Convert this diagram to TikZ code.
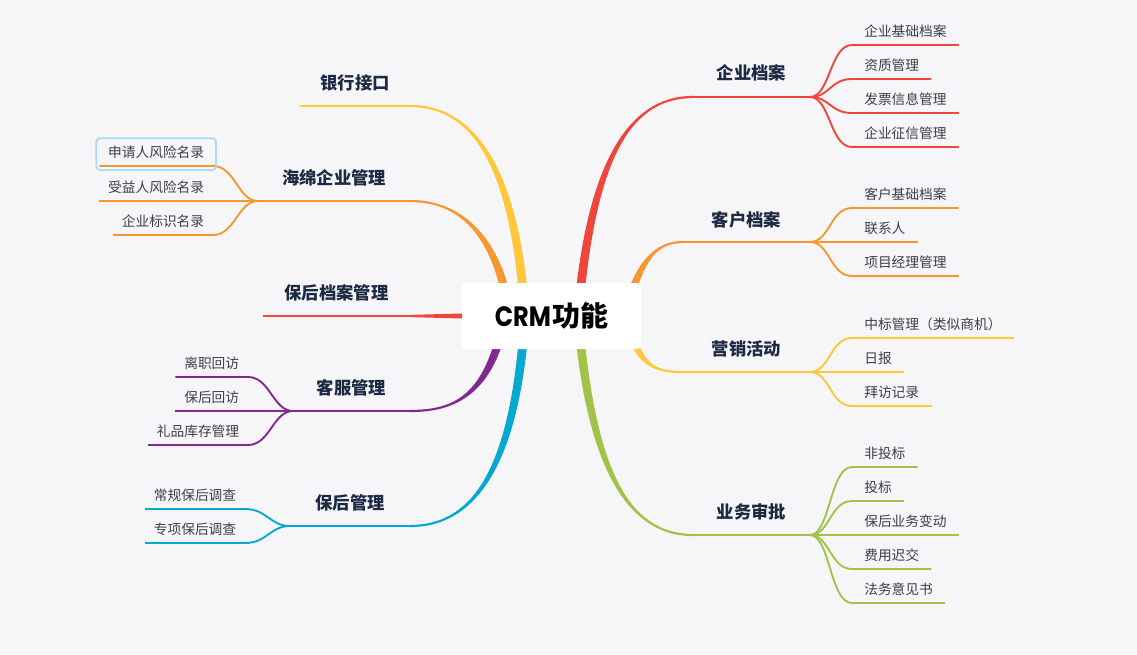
\documentclass[tikz,border=0pt]{standalone}
\usepackage{fontspec}
\usepackage{graphicx}
\newfontfamily\cjk{Noto Sans CJK SC}
\newfontfamily\pop{Poppins}
\usetikzlibrary{calc}
\pgfdeclarelayer{bg}
\pgfsetlayers{bg,main}
\definecolor{bgc}{HTML}{F6F6F9}
\definecolor{cred}{HTML}{F0453A}
\definecolor{corg}{HTML}{F7972F}
\definecolor{cyel}{HTML}{FEC83A}
\definecolor{cgrn}{HTML}{A2C347}
\definecolor{cpur}{HTML}{80298F}
\definecolor{ccyn}{HTML}{06A8D0}
\definecolor{navy}{HTML}{1D2A44}
\definecolor{subc}{HTML}{3A3F4B}
\definecolor{hlc}{HTML}{A5DBF6}
\def\wa{4.5}
\def\wb{1.1}
% tapered main branch: colour, Sx,Sy, C1x,C1y, C2x,C2y, Ex,Ey
\newcommand\mbranch[9]{%
  \pgfmathsetmacro\sg{((#8-#2)/100)*((#9-#3)/100)<0 ? -1 : 1}%
  \fill[#1] (#2-\wa,#3) .. controls (#4-\wa,#5) and (#6,#7+\sg*\wb) .. (#8,#9+\sg*\wb)
    -- (#8,#9-\sg*\wb) .. controls (#6,#7-\sg*\wb) and (#4+\wa,#5) .. (#2+\wa,#3) -- cycle;}
\tikzset{
  crmbox/.style={fill=white, rounded corners=3pt, minimum width=134.25pt, minimum height=49.5pt, inner sep=0pt},
  mainl/.style={font=\cjk\bfseries\fontsize{13}{15}\selectfont, text=navy, inner sep=0pt},
  rsub/.style={anchor=south west, font=\cjk\fontsize{10.3}{12}\selectfont, text=subc, inner xsep=9pt, inner ysep=4.5pt, text height=0.8em, text depth=0.2em},
  lsub/.style={rsub, anchor=south east, inner xsep=6.4pt},
  hline/.style={line width=1.7pt},
  sbr/.style={line width=1.4pt},
  hl/.style={draw=hlc, line width=1.3pt, rounded corners=3pt},
}
\newcommand\rbr[3]{\draw[sbr] (#1) .. controls +(20,0) and +(-22,0) .. (#2.south west) -- (#2.south east);}
\newcommand\lbr[3]{\draw[sbr] (#1) .. controls +(-20,0) and +(22,0) .. (#2.south east) -- (#2.south west);}
\begin{document}
\begin{tikzpicture}[x=0.75pt,y=-0.75pt]
\useasboundingbox (0,0) rectangle (1137,654);
\begin{pgfonlayer}{bg}
\fill[bgc] (0,0) rectangle (1137,654);
% main branches
\mbranch{cred}{578}{316}{590}{170}{625}{97}{693}{97}
\mbranch{corg}{625}{316}{638}{262}{655}{242}{683}{242}
\mbranch{cyel}{625}{316}{638}{367}{655}{372}{683}{372}
\mbranch{cgrn}{578}{316}{590}{462}{625}{535}{693}{535}
\mbranch{cyel}{525}{316}{515}{160}{470}{106}{410}{106}
\mbranch{corg}{510}{316}{498}{235}{460}{201}{410}{201}
\mbranch{cpur}{505}{316}{490}{395}{455}{411}{410}{411}
\mbranch{ccyn}{525}{316}{515}{475}{470}{526}{410}{526}
\fill[cred] (480,316-3) -- (410,316-1.1) -- (410,316+1.1) -- (480,316+3) -- cycle;
\end{pgfonlayer}

\node[crmbox] (crm) at (551.5,316) {\fontsize{21}{26}\selectfont\scalebox{0.86}[1]{\pop\bfseries CRM}\hspace{1pt}{\cjk\bfseries 功能}};

% end points of the curved parts and fork points
\coordinate (e1) at (693,97);  \coordinate (h1) at (810,97);
\coordinate (e2) at (683,242); \coordinate (h2) at (810,242);
\coordinate (e3) at (683,372); \coordinate (h3) at (810,372);
\coordinate (e4) at (693,535); \coordinate (h4) at (810,535);
\coordinate (e5) at (410,106); \coordinate (h5) at (300,106);
\coordinate (e6) at (410,201); \coordinate (h6) at (258,201);
\coordinate (e7) at (410,316); \coordinate (h7) at (263,316);
\coordinate (e8) at (410,411); \coordinate (h8) at (293,411);
\coordinate (e9) at (410,526); \coordinate (h9) at (290,526);

\draw[hline,cred] (e1) -- (h1);
\draw[hline,corg] (e2) -- (h2);
\draw[hline,cyel] (e3) -- (h3);
\draw[hline,cgrn] (e4) -- (h4);
\draw[hline,cyel] (e5) -- (h5);
\draw[hline,corg] (e6) -- (h6);
\draw[hline,cred] (e7) -- (h7);
\draw[hline,cpur] (e8) -- (h8);
\draw[hline,ccyn] (e9) -- (h9);

% main labels
\node[mainl] (m1) at ($(e1)!0.5!(h1)+(0,-24)$) {企业档案};
\node[mainl] (m2) at ($(e2)!0.5!(h2)+(0,-22)$) {客户档案};
\node[mainl] (m3) at ($(e3)!0.5!(h3)+(0,-23)$) {营销活动};
\node[mainl] (m4) at ($(e4)!0.5!(h4)+(0,-23)$) {业务审批};
\node[mainl] (m5) at ($(e5)!0.5!(h5)+(0,-23)$) {银行接口};
\node[mainl] (m6) at ($(e6)!0.5!(h6)+(0,-23)$) {海绵企业管理};
\node[mainl] (m7) at ($(e7)!0.5!(h7)+(0,-23)$) {保后档案管理};
\node[mainl] (m8) at ($(e8)!0.5!(h8)+(0,-23)$) {客服管理};
\node[mainl] (m9) at ($(e9)!0.5!(h9)+(0,-23)$) {保后管理};

% right sub-branches
\begin{scope}[cred]
\node[rsub] (s11) at (852,45) {企业基础档案}; \rbr{h1}{s11}{}
\node[rsub] (s12) at (852,79) {资质管理}; \rbr{h1}{s12}{}
\node[rsub] (s13) at (852,113) {发票信息管理}; \rbr{h1}{s13}{}
\node[rsub] (s14) at (852,147) {企业征信管理}; \rbr{h1}{s14}{}
\end{scope}
\begin{scope}[corg]
\node[rsub] (s21) at (852,208) {客户基础档案}; \rbr{h2}{s21}{}
\node[rsub] (s22) at (852,242) {联系人}; \rbr{h2}{s22}{}
\node[rsub] (s23) at (852,276) {项目经理管理}; \rbr{h2}{s23}{}
\end{scope}
\begin{scope}[cyel]
\node[rsub] (s31) at (852,338) {中标管理（类似商机）}; \rbr{h3}{s31}{}
\node[rsub] (s32) at (852,372) {日报}; \rbr{h3}{s32}{}
\node[rsub] (s33) at (852,406) {拜访记录}; \rbr{h3}{s33}{}
\end{scope}
\begin{scope}[cgrn]
\node[rsub] (s41) at (852,467) {非投标}; \rbr{h4}{s41}{}
\node[rsub] (s42) at (852,501) {投标}; \rbr{h4}{s42}{}
\node[rsub] (s43) at (852,535) {保后业务变动}; \rbr{h4}{s43}{}
\node[rsub] (s44) at (852,569) {费用迟交}; \rbr{h4}{s44}{}
\node[rsub] (s45) at (852,603) {法务意见书}; \rbr{h4}{s45}{}
\end{scope}

% left sub-branches
\begin{scope}[corg]
\node[lsub] (s61) at (213,166) {申请人风险名录}; \lbr{h6}{s61}{}
\node[lsub] (s62) at (213,201) {受益人风险名录}; \lbr{h6}{s62}{}
\node[lsub] (s63) at (213,235) {企业标识名录}; \lbr{h6}{s63}{}
\end{scope}
\draw[hl] ($(s61.south west)+(-3,4)$) rectangle ($(s61.north east)+(3,-2)$);
\begin{scope}[cpur]
\node[lsub] (s81) at (248,377) {离职回访}; \lbr{h8}{s81}{}
\node[lsub] (s82) at (248,411) {保后回访}; \lbr{h8}{s82}{}
\node[lsub] (s83) at (248,445) {礼品库存管理}; \lbr{h8}{s83}{}
\end{scope}
\begin{scope}[ccyn]
\node[lsub] (s91) at (245,509) {常规保后调查}; \lbr{h9}{s91}{}
\node[lsub] (s92) at (245,543) {专项保后调查}; \lbr{h9}{s92}{}
\end{scope}
\end{tikzpicture}
\end{document}
